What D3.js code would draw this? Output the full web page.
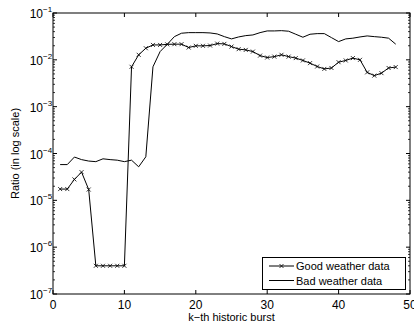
<!DOCTYPE html>
<html>
<head>
<meta charset="utf-8">
<script src="https://cdn.jsdelivr.net/npm/d3@7"></script>
<style>
body{margin:0;background:#fff;}
text{font-family:"Liberation Sans",Arial,sans-serif;fill:#000;}
</style>
</head>
<body>
<div id="chart"></div>
<script>
// bursts 1..48
var bursts = d3.range(1, 49);
var goodWeather = [1.74e-5,1.74e-5,2.8e-5,4.0e-5,1.7e-5,4.0e-7,4.0e-7,4.0e-7,4.0e-7,4.0e-7,
  7.1e-3,1.28e-2,1.77e-2,2.08e-2,2.08e-2,2.14e-2,2.16e-2,2.16e-2,1.83e-2,1.99e-2,
  1.99e-2,2.02e-2,2.22e-2,2.19e-2,1.92e-2,1.69e-2,1.63e-2,1.50e-2,1.23e-2,1.12e-2,
  1.17e-2,1.28e-2,1.17e-2,1.09e-2,9.7e-3,8.5e-3,7.2e-3,6.4e-3,6.7e-3,8.9e-3,
  9.7e-3,1.09e-2,1.0e-2,5.4e-3,4.6e-3,5.2e-3,6.7e-3,7.0e-3];
var badWeather = [5.8e-5,5.8e-5,8.4e-5,7.4e-5,6.9e-5,6.7e-5,7.7e-5,7.4e-5,7.2e-5,6.7e-5,
  7.2e-5,5.2e-5,8.5e-5,7.1e-3,1.50e-2,2.14e-2,3.13e-2,3.70e-2,3.81e-2,3.81e-2,
  3.81e-2,3.75e-2,3.57e-2,3.13e-2,2.80e-2,3.08e-2,3.29e-2,3.40e-2,3.81e-2,4.14e-2,
  4.14e-2,4.20e-2,4.08e-2,3.52e-2,3.04e-2,3.52e-2,3.63e-2,3.63e-2,2.98e-2,2.45e-2,
  2.80e-2,2.90e-2,3.08e-2,3.24e-2,3.13e-2,3.04e-2,2.90e-2,2.16e-2];
var xTicks = [0,10,20,30,40,50];
var yExps = [-1,-2,-3,-4,-5,-6,-7];
var seriesNames = ["Good weather data","Bad weather data"];

var W = 414, H = 327;
var m = {l:53, r:4, t:13, b:33};
var svg = d3.select("#chart").append("svg").attr("width",W).attr("height",H);
var x = d3.scaleLinear().domain([0,50]).range([m.l, W-m.r]);
var y = d3.scaleLog().domain([1e-7,1e-1]).range([H-m.b, m.t]);
var x0 = x(0), x1 = x(50), y0 = y(1e-7), y1 = y(1e-1);

var g = svg.append("g");
// minor ticks (log), both sides
var minors = [];
for (var e=-7; e<-1; e++) for (var k=2; k<10; k++) minors.push(k*Math.pow(10,e));
minors.forEach(function(v){
  g.append("line").attr("x1",x0).attr("x2",x0+2).attr("y1",y(v)).attr("y2",y(v)).attr("stroke","#000").attr("stroke-width",0.8);
  g.append("line").attr("x1",x1).attr("x2",x1-2).attr("y1",y(v)).attr("y2",y(v)).attr("stroke","#000").attr("stroke-width",0.8);
});
yExps.forEach(function(e){
  var py = y(Math.pow(10,e));
  g.append("line").attr("x1",x0).attr("x2",x0+4).attr("y1",py).attr("y2",py).attr("stroke","#000");
  g.append("line").attr("x1",x1).attr("x2",x1-4).attr("y1",py).attr("y2",py).attr("stroke","#000");
  g.append("text").attr("x",x0-10).attr("y",py+5).attr("text-anchor","end").attr("font-size",12).text("10");
  g.append("text").attr("x",x0-10).attr("y",py-1).attr("font-size",8).text("\u2212"+(-e));
});
xTicks.forEach(function(v){
  var px = x(v);
  g.append("line").attr("x1",px).attr("x2",px).attr("y1",y0).attr("y2",y0-4).attr("stroke","#000");
  g.append("line").attr("x1",px).attr("x2",px).attr("y1",y1).attr("y2",y1+4).attr("stroke","#000");
  g.append("text").attr("x",px).attr("y",y0+15).attr("text-anchor","middle").attr("font-size",12).text(v);
});
g.append("rect").attr("x",x0).attr("y",y1).attr("width",x1-x0).attr("height",y0-y1)
  .attr("fill","none").attr("stroke","#000").attr("stroke-width",1);

var line = d3.line().x(function(d,i){return x(bursts[i]);}).y(function(d){return y(d);});
g.append("path").datum(badWeather).attr("d",line).attr("fill","none").attr("stroke","#000").attr("stroke-width",1);
g.append("path").datum(goodWeather).attr("d",line).attr("fill","none").attr("stroke","#000").attr("stroke-width",1);
var cross = "M-2,-2L2,2M-2,2L2,-2";
g.selectAll(".mk").data(goodWeather).enter().append("path")
  .attr("transform",function(d,i){return "translate("+x(bursts[i])+","+y(d)+")";})
  .attr("d",cross).attr("stroke","#000").attr("stroke-width",0.8).attr("fill","none");

// labels
svg.append("text").attr("x",(x0+x1)/2).attr("y",H-6).attr("text-anchor","middle").attr("font-size",11).text("k\u2212th historic burst");
svg.append("text").attr("transform","translate(19,"+((y0+y1)/2)+") rotate(-90)").attr("text-anchor","middle").attr("font-size",11).text("Ratio (in log scale)");

// legend
var lg = svg.append("g");
lg.append("rect").attr("x",262.5).attr("y",257.5).attr("width",143).attr("height",32).attr("fill","#fff").attr("stroke","#000");
seriesNames.forEach(function(n,i){
  var ly = 266 + i*14.5;
  lg.append("line").attr("x1",269).attr("x2",294).attr("y1",ly).attr("y2",ly).attr("stroke","#000");
  if(i===0) lg.append("path").attr("transform","translate(281.5,"+ly+")").attr("d",cross).attr("stroke","#000").attr("stroke-width",0.8);
  lg.append("text").attr("x",296).attr("y",ly+4).attr("font-size",11).text(n);
});
</script>
</body>
</html>
